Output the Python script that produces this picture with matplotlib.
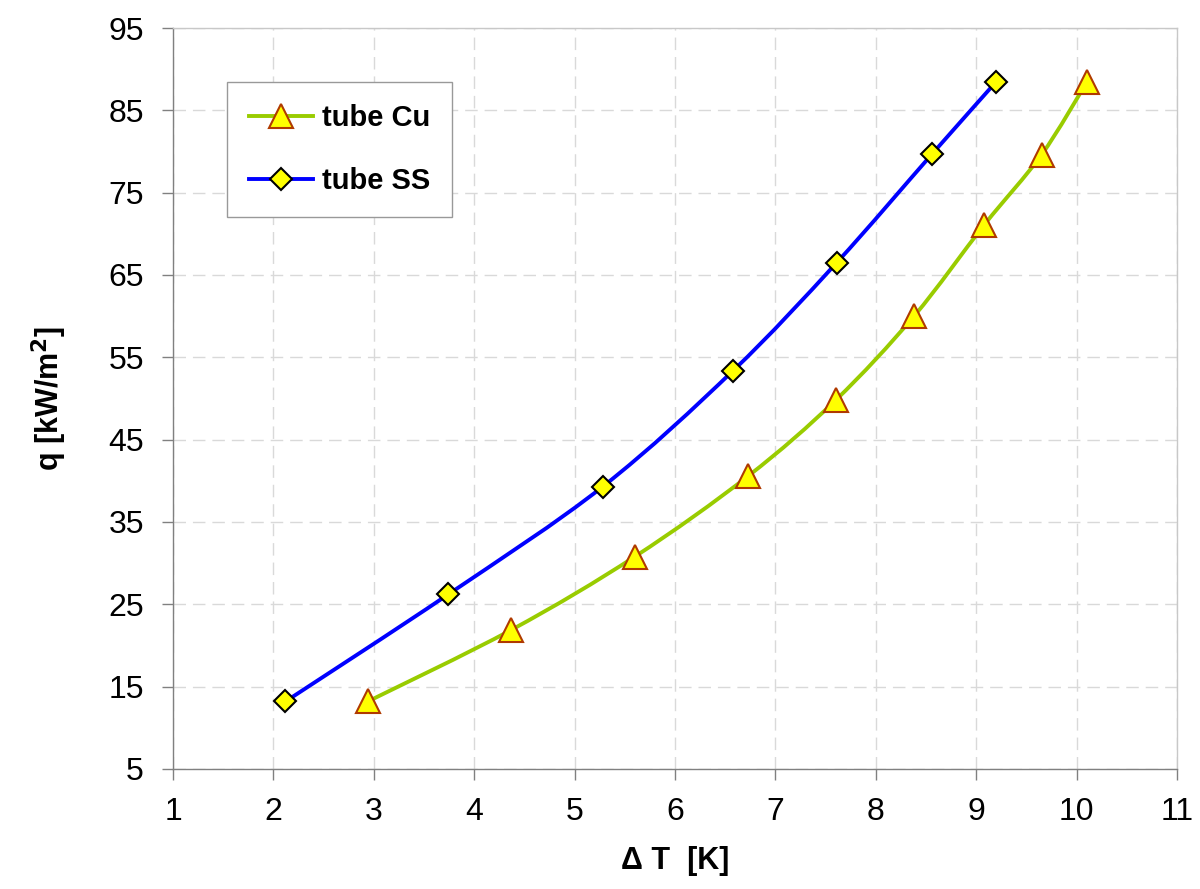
import numpy as np
import matplotlib.pyplot as plt
from matplotlib.path import Path
from matplotlib.patches import PathPatch
from matplotlib.lines import Line2D

plt.rcParams["font.family"] = ["Liberation Sans", "DejaVu Sans"]

# tube Cu (triangles)
dt_cu = [2.94, 4.37, 5.60, 6.73, 7.60, 8.38, 9.08, 9.65, 10.10]
q_cu = [13.2, 21.9, 30.8, 40.6, 49.8, 60.0, 71.1, 79.6, 88.4]

# tube SS (diamonds)
dt_ss = [2.12, 3.74, 5.28, 6.58, 7.61, 8.56, 9.20]
q_ss = [13.2, 26.2, 39.3, 53.4, 66.5, 79.7, 88.5]

x_ticks = list(range(1, 12))
y_ticks = list(range(5, 96, 10))


def smooth_path(xs, ys):
    # Excel-style smoothed line: Catmull-Rom segments as cubic Bezier curves
    pts = np.column_stack([xs, ys]).astype(float)
    n = len(pts)
    verts = [pts[0]]
    codes = [Path.MOVETO]
    for i in range(n - 1):
        p0 = pts[max(i - 1, 0)]
        p1 = pts[i]
        p2 = pts[i + 1]
        p3 = pts[min(i + 2, n - 1)]
        c1 = p1 + (p2 - p0) / 6.0
        c2 = p2 - (p3 - p1) / 6.0
        verts += [c1, c2, p2]
        codes += [Path.CURVE4] * 3
    return Path(verts, codes)


fig = plt.figure(figsize=(12, 8.89), dpi=100)
ax = fig.add_axes([0.1442, 0.135, 0.8367, 0.8335])

cu_line = "#99cc00"
ss_line = "#0000ff"
fill = "#ffff00"
cu_edge = "#b03a00"

ax.add_patch(PathPatch(smooth_path(dt_cu, q_cu), fill=False,
                       edgecolor=cu_line, linewidth=2.8, zorder=3))
ax.add_patch(PathPatch(smooth_path(dt_ss, q_ss), fill=False,
                       edgecolor=ss_line, linewidth=2.8, zorder=3))

ax.plot(dt_cu, q_cu, linestyle="none", marker="^", markersize=17,
        markerfacecolor=fill, markeredgecolor=cu_edge, markeredgewidth=1.5,
        zorder=4)
ax.plot(dt_ss, q_ss, linestyle="none", marker="D", markersize=11,
        markerfacecolor=fill, markeredgecolor="black", markeredgewidth=1.5,
        zorder=4)

ax.set_xlim(1, 11)
ax.set_ylim(5, 95)
ax.set_xticks(x_ticks)
ax.set_yticks(y_ticks)

ax.grid(True, color="#d9d9d9", linewidth=1, linestyle=(0, (9, 5)))
ax.set_axisbelow(True)

for side in ["left", "bottom"]:
    ax.spines[side].set_color("#808080")
    ax.spines[side].set_linewidth(1)
for side in ["top", "right"]:
    ax.spines[side].set_color("#c8c8c8")
    ax.spines[side].set_linewidth(1)

ax.tick_params(axis="both", direction="out", length=8, width=1,
               color="#808080", labelsize=23)
ax.tick_params(axis="x", pad=12)
ax.tick_params(axis="y", pad=13)

ax.set_xlabel("Δ T  [K]", fontsize=22, fontweight="bold", labelpad=14)
ax.set_ylabel("q [kW/m$^\\mathbf{2}$]", fontsize=22, fontweight="bold",
              labelpad=28)

handles = [
    Line2D([], [], color=cu_line, linewidth=2.8, marker="^", markersize=17,
           markerfacecolor=fill, markeredgecolor=cu_edge, markeredgewidth=1.5),
    Line2D([], [], color=ss_line, linewidth=2.8, marker="D", markersize=11,
           markerfacecolor=fill, markeredgecolor="black", markeredgewidth=1.5),
]
leg = ax.legend(handles, ["tube Cu", "tube SS"], loc="upper left",
                bbox_to_anchor=(0.054, 0.927), borderaxespad=0,
                fancybox=False, edgecolor="#999999", framealpha=1,
                prop={"size": 21, "weight": "bold"}, handlelength=2.2,
                handletextpad=0.3, labelspacing=1.2, borderpad=0.75)
leg.get_frame().set_linewidth(1)

fig.savefig("out.png", dpi=100)
